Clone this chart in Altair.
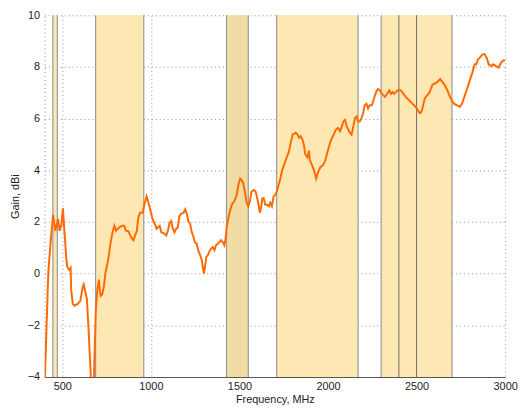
import altair as alt
import pandas as pd

# Gain trace (MHz, dBi)
freq = [401, 421, 435, 448, 461, 476, 485, 494, 504, 509, 513, 522, 528, 539, 547, 550, 559, 568, 587, 602,
        615, 621, 629, 639, 648, 661, 667, 675, 679, 689, 698, 707, 711, 717, 726, 735, 744, 759, 772, 782,
        794, 804, 813, 822, 837, 850, 859, 874, 879, 893, 902, 911, 921, 929, 939, 954, 963, 976, 984, 994,
        1007, 1022, 1033, 1050, 1059, 1074, 1087, 1096, 1106, 1115, 1124, 1133, 1143, 1152, 1161, 1171, 1185, 1194, 1204, 1211,
        1222, 1229, 1241, 1248, 1259, 1267, 1278, 1287, 1294, 1300, 1306, 1313, 1322, 1332, 1341, 1350, 1359, 1368, 1378, 1387,
        1396, 1406, 1415, 1422, 1429, 1444, 1457, 1471, 1485, 1494, 1504, 1513, 1522, 1532, 1541, 1550, 1559, 1568, 1582, 1591,
        1596, 1606, 1615, 1624, 1629, 1637, 1646, 1657, 1667, 1674, 1683, 1693, 1702, 1711, 1721, 1729, 1741, 1754, 1767, 1778,
        1800, 1818, 1828, 1837, 1846, 1856, 1865, 1871, 1883, 1893, 1898, 1907, 1921, 1933, 1944, 1957, 1971, 1985, 1994, 2004,
        2018, 2032, 2044, 2056, 2068, 2078, 2087, 2096, 2106, 2115, 2124, 2133, 2143, 2152, 2161, 2171, 2179, 2189, 2198, 2207,
        2217, 2226, 2235, 2248, 2259, 2272, 2282, 2294, 2304, 2313, 2322, 2333, 2346, 2356, 2365, 2374, 2383, 2393, 2402, 2411,
        2426, 2439, 2457, 2476, 2494, 2507, 2518, 2528, 2537, 2546, 2559, 2568, 2578, 2587, 2596, 2615, 2633, 2648, 2661, 2674,
        2685, 2698, 2711, 2726, 2744, 2757, 2772, 2785, 2800, 2815, 2828, 2837, 2846, 2856, 2871, 2883, 2896, 2907, 2921, 2933,
        2948, 2963, 2976, 2989, 3000]
gain = [-4.2, 0.04, 1.29, 2.27, 1.66, 2.12, 1.66, 1.85, 2.53, 1.93, 1.55, 0.64, 0.26, 0.15, 0.23, -0.6, -1.17, -1.24, -1.17, -1.05,
        -0.53, -0.42, -0.67, -0.98, -2.12, -3.93, -4.8, -4.8, -3.93, -1.48, -0.6, -0.23, -0.6, -0.86, -0.79, -0.48, 0.04, 0.53, 1.17, 1.55,
        1.85, 1.66, 1.74, 1.79, 1.85, 1.85, 1.66, 1.64, 1.55, 1.36, 1.29, 1.48, 1.66, 2.17, 2.36, 2.36, 2.67, 2.99, 2.80, 2.55,
        2.17, 1.93, 1.74, 1.85, 1.60, 1.56, 1.48, 1.66, 1.98, 2.04, 1.74, 1.60, 1.74, 1.79, 2.23, 2.32, 2.36, 2.49, 2.30, 2.04,
        1.92, 1.66, 1.41, 1.22, 1.16, 0.91, 0.72, 0.53, 0.22, 0.0, 0.28, 0.65, 0.72, 0.88, 0.97, 1.03, 0.91, 1.10, 1.16, 1.22,
        1.29, 1.22, 1.10, 1.35, 1.85, 2.36, 2.67, 2.80, 3.05, 3.43, 3.68, 3.62, 3.49, 3.11, 2.74, 2.61, 2.80, 3.18, 3.24, 3.18,
        3.05, 2.74, 2.36, 2.61, 2.92, 2.92, 2.67, 2.67, 2.61, 2.74, 2.61, 2.99, 3.05, 3.18, 3.43, 3.62, 4.0, 4.25, 4.50, 4.69,
        5.38, 5.45, 5.38, 5.26, 5.32, 5.19, 4.95, 4.63, 4.50, 4.76, 4.38, 4.25, 4.0, 3.68, 3.93, 4.12, 4.19, 4.38, 4.63, 4.88,
        5.19, 5.38, 5.57, 5.64, 5.51, 5.70, 5.89, 5.95, 5.70, 5.57, 5.45, 5.38, 5.70, 6.02, 6.08, 5.89, 5.89, 6.02, 6.21, 6.52,
        6.58, 6.39, 6.52, 6.52, 6.77, 7.03, 7.15, 7.09, 6.96, 6.90, 6.84, 6.96, 7.09, 6.96, 7.03, 6.96, 7.03, 7.09, 7.11, 7.09,
        6.96, 6.84, 6.71, 6.58, 6.46, 6.33, 6.21, 6.27, 6.52, 6.77, 6.90, 6.96, 7.09, 7.28, 7.34, 7.40, 7.53, 7.40, 7.28, 7.09,
        6.90, 6.71, 6.58, 6.52, 6.46, 6.58, 6.90, 7.15, 7.47, 7.78, 8.10, 8.10, 8.29, 8.35, 8.48, 8.50, 8.35, 8.10, 8.03, 8.10,
        8.03, 7.97, 8.16, 8.25, 8.25]

# Frequency bands (MHz)
band_start = [447, 688, 1427, 1710, 2300]
band_end = [472, 960, 1550, 2170, 2700]
band_kind = ["light", "light", "dark", "light", "light"]
inner_lines = [2400, 2500]

x_ticks = [500, 1000, 1500, 2000, 2500, 3000]
y_ticks = [-4, -2, 0, 2, 4, 6, 8, 10]

trace = pd.DataFrame({"f": freq, "g": gain})
bands = pd.DataFrame({"start": band_start, "end": band_end, "kind": band_kind})
edges = pd.DataFrame({"f": band_start + band_end})
inner = pd.DataFrame({"f": inner_lines})

xs = alt.Scale(domain=[400, 3000], nice=False, zero=False)
ys = alt.Scale(domain=[-4, 10], nice=False, zero=False)

xaxis = alt.Axis(values=x_ticks, format="d", title="Frequency, MHz", grid=True, gridDash=[1, 3],
                 gridColor="#8a8a8a", gridOpacity=0.9, domainColor="#555555", ticks=False,
                 labelPadding=4, titlePadding=2, labelFlush=False)
yaxis = alt.Axis(values=y_ticks, format="d", title="Gain, dBi", grid=True, gridDash=[1, 3],
                 gridColor="#8a8a8a", gridOpacity=0.9, domainColor="#8a8a8a", domainDash=[1, 3],
                 ticks=False, labelPadding=5, titlePadding=7)

band_layer = alt.Chart(bands).mark_rect(opacity=1).encode(
    x=alt.X("start:Q", scale=xs, axis=xaxis),
    x2="end:Q",
    color=alt.Color("kind:N", scale=alt.Scale(domain=["light", "dark"], range=["#fde8b3", "#f0dca4"]), legend=None),
)

edge_layer = alt.Chart(edges).mark_rule(color="#9a9a9a", strokeWidth=1.2).encode(
    x=alt.X("f:Q", scale=xs)
)
inner_layer = alt.Chart(inner).mark_rule(color="#6a6a6a", strokeWidth=1).encode(
    x=alt.X("f:Q", scale=xs)
)

line_layer = alt.Chart(trace).mark_line(color="#ff6a00", strokeWidth=2, clip=True).encode(
    x=alt.X("f:Q", scale=xs),
    y=alt.Y("g:Q", scale=ys, axis=yaxis),
)

chart = alt.layer(band_layer, edge_layer, inner_layer, line_layer).properties(
    width=466, height=366,
    autosize=alt.AutoSizeParams(type="none"),
    padding={"left": 37, "top": 5, "right": 13, "bottom": 29},
).configure_axis(
    labelFont="Liberation Sans", titleFont="Liberation Sans", labelFontSize=11, titleFontSize=11,
    titleFontWeight="normal", labelColor="#222222", titleColor="#222222", zindex=1,
).configure_view(stroke=None)

chart.save("out.html", embed_options={"renderer": "svg", "actions": False})
